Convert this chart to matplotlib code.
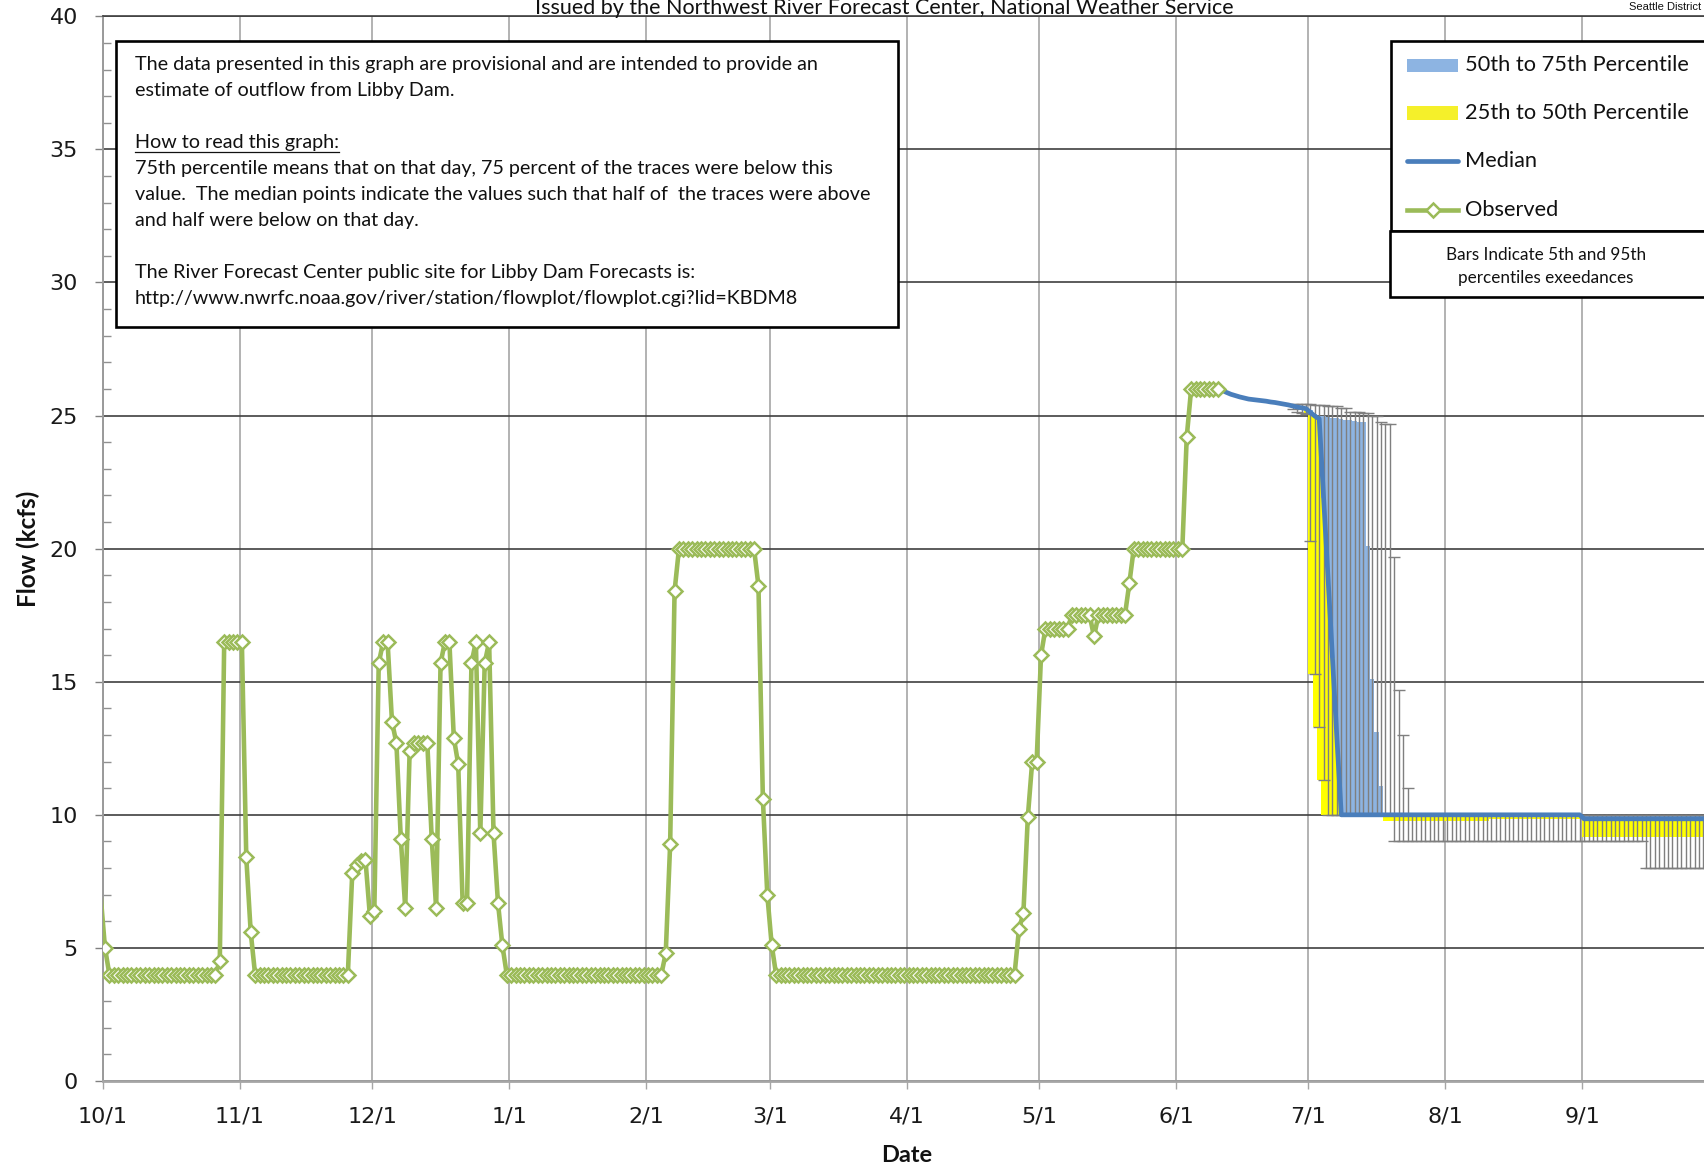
import numpy as np
import matplotlib
matplotlib.use("Agg")
import matplotlib.pyplot as plt
from matplotlib.patches import Rectangle
from matplotlib.lines import Line2D
from matplotlib.ticker import MultipleLocator

# ---------------- data ----------------
# x axis: day of water year (0 = 10/1)
month_days = [0, 31, 61, 92, 123, 151, 182, 212, 243, 273, 304, 335]
month_labels = ["10/1", "11/1", "12/1", "1/1", "2/1", "3/1", "4/1", "5/1", "6/1", "7/1", "8/1", "9/1"]
y_ticks = [0, 5, 10, 15, 20, 25, 30, 35, 40]

# Observed daily outflow (kcfs), day -1 (9/30) .. day 252 (6/10)
obs_start_day = -1
obs_flow = [
    7.0, 5.0, 4.0, 4.0, 4.0, 4.0, 4.0, 4.0, 4.0, 4.0,          # -1..8
    4.0, 4.0, 4.0, 4.0, 4.0, 4.0, 4.0, 4.0, 4.0, 4.0,          # 9..18
    4.0, 4.0, 4.0, 4.0, 4.0, 4.0, 4.0, 4.5, 16.5, 16.5,        # 19..28
    16.5, 16.5, 16.5, 8.4, 5.6, 4.0, 4.0, 4.0, 4.0, 4.0,       # 29..38
    4.0, 4.0, 4.0, 4.0, 4.0, 4.0, 4.0, 4.0, 4.0, 4.0,          # 39..48
    4.0, 4.0, 4.0, 4.0, 4.0, 4.0, 4.0, 7.8, 8.1, 8.25,         # 49..58
    8.3, 6.2, 6.4, 15.7, 16.5, 16.5, 13.5, 12.7, 9.1, 6.5,     # 59..68
    12.4, 12.7, 12.7, 12.7, 12.7, 9.1, 6.5, 15.7, 16.5, 16.5,  # 69..78
    12.9, 11.9, 6.7, 6.7, 15.7, 16.5, 9.3, 15.7, 16.5, 9.3,    # 79..88
    6.7, 5.1, 4.0, 4.0, 4.0, 4.0, 4.0, 4.0, 4.0, 4.0,          # 89..98
    4.0, 4.0, 4.0, 4.0, 4.0, 4.0, 4.0, 4.0, 4.0, 4.0,          # 99..108
    4.0, 4.0, 4.0, 4.0, 4.0, 4.0, 4.0, 4.0, 4.0, 4.0,          # 109..118
    4.0, 4.0, 4.0, 4.0, 4.0, 4.0, 4.0, 4.0, 4.8, 8.9,          # 119..128
    18.4, 20.0, 20.0, 20.0, 20.0, 20.0, 20.0, 20.0, 20.0, 20.0,  # 129..138
    20.0, 20.0, 20.0, 20.0, 20.0, 20.0, 20.0, 20.0, 20.0, 18.6,  # 139..148
    10.6, 7.0, 5.1, 4.0, 4.0, 4.0, 4.0, 4.0, 4.0, 4.0,         # 149..158
    4.0, 4.0, 4.0, 4.0, 4.0, 4.0, 4.0, 4.0, 4.0, 4.0,          # 159..168
    4.0, 4.0, 4.0, 4.0, 4.0, 4.0, 4.0, 4.0, 4.0, 4.0,          # 169..178
    4.0, 4.0, 4.0, 4.0, 4.0, 4.0, 4.0, 4.0, 4.0, 4.0,          # 179..188
    4.0, 4.0, 4.0, 4.0, 4.0, 4.0, 4.0, 4.0, 4.0, 4.0,          # 189..198
    4.0, 4.0, 4.0, 4.0, 4.0, 4.0, 4.0, 4.0, 5.7, 6.3,          # 199..208
    9.9, 12.0, 12.0, 16.0, 17.0, 17.0, 17.0, 17.0, 17.0, 17.0,  # 209..218
    17.5, 17.5, 17.5, 17.5, 17.5, 16.7, 17.5, 17.5, 17.5, 17.5,  # 219..228
    17.5, 17.5, 17.5, 18.7, 20.0, 20.0, 20.0, 20.0, 20.0, 20.0,  # 229..238
    20.0, 20.0, 20.0, 20.0, 20.0, 20.0, 24.2, 26.0, 26.0, 26.0,  # 239..248
    26.0, 26.0, 26.0, 26.0,                                     # 249..252
]

# Forecast median, day 252 (6/10) .. day 364 (9/30)
median_start_day = 252
median_flow = [
    26.0, 25.95, 25.87, 25.8, 25.75, 25.7, 25.66, 25.62, 25.6, 25.58,   # 252..261
    25.56, 25.54, 25.51, 25.49, 25.46, 25.43, 25.4, 25.36, 25.32, 25.29,  # 262..271
    25.26, 25.12, 24.98, 24.88, 21.9, 18.9, 15.9, 12.9, 10.0, 10.0,    # 272..281
    10.0, 10.0, 10.0, 10.0, 10.0, 10.0, 10.0, 10.0, 10.0, 10.0,        # 282..291
    10.0, 10.0, 10.0, 10.0, 10.0, 10.0, 10.0, 10.0, 10.0, 10.0,        # 292..301
    10.0, 10.0, 10.0, 10.0, 10.0, 10.0, 10.0, 10.0, 10.0, 10.0,        # 302..311
    10.0, 10.0, 10.0, 10.0, 10.0, 10.0, 10.0, 10.0, 10.0, 10.0,        # 312..321
    10.0, 10.0, 10.0, 10.0, 10.0, 10.0, 10.0, 10.0, 10.0, 10.0,        # 322..331
    10.0, 10.0, 10.0, 9.85, 9.85, 9.85, 9.85, 9.85, 9.85, 9.85,        # 332..341
    9.85, 9.85, 9.85, 9.85, 9.85, 9.85, 9.85, 9.85, 9.85, 9.85,        # 342..351
    9.85, 9.85, 9.85, 9.85, 9.85, 9.85, 9.85, 9.85, 9.85, 9.85,        # 352..361
    9.85, 9.85, 9.85,                                                  # 362..364
]

# Percentile bands, day 269 (6/27) .. day 364 (9/30)
band_start_day = 269
p95_flow = [
    25.45, 25.45, 25.44, 25.44, 25.43, 25.39, 25.38, 25.38, 25.37, 25.36,  # 269..278
    25.35, 25.3, 25.28, 25.14, 25.13, 25.12, 25.11, 25.1, 25.0, 24.98,     # 279..288
    24.75, 24.7, 24.69, 19.7, 14.7, 13.0, 11.0, 10.0, 10.0, 10.0,          # 289..298
    10.0, 10.0, 10.0, 10.0, 10.0, 10.0, 10.0, 10.0, 10.0, 10.0,            # 299..308
    10.0, 10.0, 10.0, 10.0, 10.0, 10.0, 10.0, 10.0, 10.0, 10.0,            # 309..318
    10.0, 10.0, 10.0, 10.0, 10.0, 10.0, 10.0, 10.0, 10.0, 10.0,            # 319..328
    10.0, 10.0, 10.0, 10.0, 10.0, 10.0, 10.0, 10.0, 10.0, 10.0,            # 329..338
    10.0, 10.0, 10.0, 10.0, 10.0, 10.0, 10.0, 10.0, 10.0, 10.0,            # 339..348
    10.0, 10.0, 10.0, 10.0, 10.0, 10.0, 10.0, 10.0, 10.0, 10.0,            # 349..358
    10.0, 10.0, 10.0, 10.0, 10.0, 10.0,                                    # 359..364
]
p75_flow = [
    25.38, 25.35, 25.32, 25.3, 25.2, 25.05, 25.0, 24.97, 24.95, 24.92,     # 269..278
    24.9, 24.87, 24.85, 24.82, 24.8, 24.77, 24.74, 20.1, 15.1, 13.1,       # 279..288
    11.1, 10.0, 10.0, 10.0, 10.0, 10.0, 10.0, 10.0, 10.0, 10.0,            # 289..298
    10.0, 10.0, 10.0, 10.0, 10.0, 10.0, 10.0, 10.0, 10.0, 10.0,            # 299..308
    10.0, 10.0, 10.0, 10.0, 10.0, 10.0, 10.0, 10.0, 10.0, 10.0,            # 309..318
    10.0, 10.0, 10.0, 10.0, 10.0, 10.0, 10.0, 10.0, 10.0, 10.0,            # 319..328
    10.0, 10.0, 10.0, 10.0, 10.0, 10.0, 10.0, 10.0, 10.0, 10.0,            # 329..338
    10.0, 10.0, 10.0, 10.0, 10.0, 10.0, 10.0, 10.0, 10.0, 10.0,            # 339..348
    10.0, 10.0, 10.0, 10.0, 10.0, 10.0, 10.0, 10.0, 10.0, 10.0,            # 349..358
    10.0, 10.0, 10.0, 10.0, 10.0, 10.0,                                    # 359..364
]
p25_flow = [
    25.3, 25.25, 25.2, 25.1, 15.3, 13.3, 11.3, 10.0, 10.0, 10.0,           # 269..278
    10.0, 10.0, 10.0, 10.0, 10.0, 10.0, 10.0, 10.0, 10.0, 10.0,            # 279..288
    10.0, 9.75, 9.75, 9.75, 9.75, 9.75, 9.75, 9.75, 9.75, 9.75,            # 289..298
    9.75, 9.75, 9.75, 9.75, 9.75, 9.75, 9.75, 9.75, 9.75, 9.75,            # 299..308
    9.75, 9.75, 9.75, 9.75, 9.75, 9.85, 9.85, 9.85, 9.85, 9.85,            # 309..318
    9.85, 9.85, 9.85, 9.85, 9.85, 9.85, 9.85, 9.85, 9.85, 9.85,            # 319..328
    9.85, 9.85, 9.85, 9.85, 9.85, 9.85, 9.15, 9.15, 9.15, 9.15,            # 329..338
    9.15, 9.15, 9.15, 9.15, 9.15, 9.15, 9.15, 9.15, 9.15, 9.15,            # 339..348
    9.15, 9.15, 9.15, 9.15, 9.15, 9.15, 9.15, 9.15, 9.15, 9.15,            # 349..358
    9.15, 9.15, 9.15, 9.15, 9.15, 9.15,                                    # 359..364
]
p05_flow = [
    25.25, 25.15, 25.1, 25.05, 20.3, 15.3, 13.3, 11.3, 10.0, 10.0,         # 269..278
    10.0, 10.0, 10.0, 10.0, 10.0, 10.0, 10.0, 10.0, 10.0, 10.0,            # 279..288
    10.0, 10.0, 10.0, 9.0, 9.0, 9.0, 9.0, 9.0, 9.0, 9.0,                   # 289..298
    9.0, 9.0, 9.0, 9.0, 9.0, 9.0, 9.0, 9.0, 9.0, 9.0,                      # 299..308
    9.0, 9.0, 9.0, 9.0, 9.0, 9.0, 9.0, 9.0, 9.0, 9.0,                      # 309..318
    9.0, 9.0, 9.0, 9.0, 9.0, 9.0, 9.0, 9.0, 9.0, 9.0,                      # 319..328
    9.0, 9.0, 9.0, 9.0, 9.0, 9.0, 9.0, 9.0, 9.0, 9.0,                      # 329..338
    9.0, 9.0, 9.0, 9.0, 9.0, 9.0, 9.0, 9.0, 9.0, 9.0,                      # 339..348
    8.0, 8.0, 8.0, 8.0, 8.0, 8.0, 8.0, 8.0, 8.0, 8.0,                      # 349..358
    8.0, 8.0, 8.0, 8.0, 8.0, 8.0,                                          # 359..364
]

note_lines = [
    "The data presented in this graph are provisional and are intended to provide an",
    "estimate of outflow from Libby Dam.",
    "How to read this graph:",
    "75th percentile means that on that day, 75 percent of the traces were below this",
    "value.  The median points indicate the values such that half of  the traces were above",
    "and half were below on that day.",
    "The River Forecast Center public site for Libby Dam Forecasts is:",
    "http://www.nwrfc.noaa.gov/river/station/flowplot/flowplot.cgi?lid=KBDM8",
]
legend_labels = ["50th to 75th Percentile", "25th to 50th Percentile", "Median", "Observed"]

# ---------------- style ----------------
GREEN = "#9BBB59"
MEDIAN_BLUE = "#4A7EBB"
BAND_BLUE = "#8DB4E2"
BAND_YELLOW = "#FFFF00"
WHISKER = "#7F7F7F"
TXT = ["Lato", "DejaVu Sans"]
DAY_OFFSET = 0.45  # daily values sit a little right of the date gridline
OBS_LW, OBS_MS, OBS_MEW = 3.3, 7.4, 1.8
MED_LW = 3.4

W, H = 1704, 1169
fig = plt.figure(figsize=(W / 100, H / 100), dpi=100)
fig.patch.set_facecolor("white")


def fx(x):
    return x / W


def fy(y):
    return 1 - y / H


AX_L, AX_T, AX_B = 103, 16.3, 1081
ax = fig.add_axes([fx(AX_L), fy(AX_B), 1 - fx(AX_L), (AX_B - AX_T) / H])

obs_x = np.arange(len(obs_flow)) + obs_start_day + DAY_OFFSET
med_x = np.arange(len(median_flow)) + median_start_day + DAY_OFFSET
band_x = np.arange(len(p95_flow)) + band_start_day + DAY_OFFSET
med = np.array(median_flow)
med_band = med[band_start_day - median_start_day:]
p95 = np.array(p95_flow)
p75 = np.array(p75_flow)
p25 = np.array(p25_flow)
p05 = np.array(p05_flow)

ax.bar(band_x, p75 - med_band, bottom=med_band, width=1.0, color=BAND_BLUE,
       linewidth=0, zorder=2)
ax.bar(band_x, med_band - p25, bottom=p25, width=1.0, color=BAND_YELLOW,
       linewidth=0, zorder=2)
ax.errorbar(band_x, p05, yerr=[np.zeros_like(p05), p95 - p05], fmt="none",
            ecolor=WHISKER, elinewidth=1.0, capsize=4.3, capthick=1.0, zorder=3)
ax.plot(med_x, med, color=MEDIAN_BLUE, lw=MED_LW, zorder=4, solid_joinstyle="round")
# the 9/30 value only feeds the line entering at the left edge; no marker for it
ax.plot(obs_x, obs_flow, color=GREEN, lw=OBS_LW, marker="D", ms=OBS_MS, mfc="white",
        mec=GREEN, mew=OBS_MEW, markevery=slice(1, None), zorder=5,
        solid_joinstyle="round")

ax.set_xlim(0, 362.6)
ax.set_ylim(0, 40)
ax.set_xticks(month_days)
ax.set_xticklabels(month_labels)
ax.set_yticks(y_ticks)
ax.yaxis.set_minor_locator(MultipleLocator(1))
ax.set_axisbelow(True)
ax.xaxis.grid(True, color="#A5A5A5", lw=1.2)
ax.yaxis.grid(True, color="#404040", lw=1.2)
ax.spines["right"].set_visible(False)
ax.spines["top"].set_color("#404040")
ax.spines["top"].set_linewidth(1.2)
ax.spines["left"].set_color("#9A9A9A")
ax.spines["left"].set_linewidth(1.4)
ax.spines["bottom"].set_color("#A5A5A5")
ax.spines["bottom"].set_linewidth(2.0)
ax.tick_params(axis="x", which="major", direction="out", length=6, width=1,
               color="#A5A5A5", pad=12, labelsize=16, labelcolor="#1A1A1A")
ax.tick_params(axis="y", which="major", direction="out", length=6, width=1,
               color="#808080", pad=12, labelsize=16, labelcolor="#1A1A1A")
ax.tick_params(axis="y", which="minor", direction="in", length=6, width=1,
               color="#909090")
for lab in ax.get_xticklabels() + ax.get_yticklabels():
    lab.set_family("DejaVu Sans")

renderer = fig.canvas.get_renderer()


def fit(t, target, vertical=False):
    bb = t.get_window_extent(renderer)
    cur = bb.height if vertical else bb.width
    t.set_fontsize(t.get_fontsize() * target / cur)
    return t


# axis titles
fit(fig.text(fx(907), fy(1156), "Date", ha="center", va="center",
             family=TXT, weight="bold", fontsize=15, color="#111111"), 51)
fit(fig.text(fx(28), fy(549), "Flow (kcfs)", ha="center", va="center",
             rotation=90, family=TXT, weight="bold", fontsize=15,
             color="#111111"), 117, vertical=True)

# header line (kept fully inside the canvas)
fit(fig.text(fx(884), fy(13.5), "Issued by the Northwest River Forecast Center, National Weather Service",
             ha="center", va="baseline", family=TXT, fontsize=15, color="#111111"), 700)
fig.text(fx(1701), fy(7), "Seattle District", ha="right", va="center",
         family=["Liberation Sans", "DejaVu Sans"], fontsize=8, color="#111111")

# ---- note box ----
fig.add_artist(Rectangle((fx(116), fy(327)), fx(898) - fx(116), fy(41) - fy(327),
                         transform=fig.transFigure, facecolor="white",
                         edgecolor="black", lw=1.9, zorder=6))
note_y = [64.1, 90.2, 142.4, 168.4, 194.5, 220.6, 272.8, 298.9]
note_texts = []
for line, yy in zip(note_lines, note_y):
    note_texts.append(fig.text(fx(135), fy(yy), line, ha="left", va="center",
                               family=TXT, fontsize=12.5, color="#111111", zorder=7))
fit(note_texts[4], 740)
for t in note_texts:
    t.set_fontsize(note_texts[4].get_fontsize())
bb = note_texts[2].get_window_extent(renderer)
fig.add_artist(Line2D([bb.x0 / W, bb.x1 / W], [fy(151.5), fy(151.5)],
                      transform=fig.transFigure, color="#111111", lw=0.9, zorder=7))

# ---- legend ----
fig.add_artist(Rectangle((fx(1391), fy(231)), fx(1730) - fx(1391), fy(41) - fy(231),
                         transform=fig.transFigure, facecolor="white",
                         edgecolor="black", lw=1.9, zorder=6))
fig.add_artist(Rectangle((fx(1390), fy(297)), fx(1730) - fx(1390), fy(231) - fy(297),
                         transform=fig.transFigure, facecolor="white",
                         edgecolor="black", lw=1.9, zorder=6))
leg_y = [65.2, 113.0, 160.8, 209.7]
fig.add_artist(Rectangle((fx(1407), fy(72)), fx(1458) - fx(1407), fy(59) - fy(72),
                         transform=fig.transFigure, facecolor=BAND_BLUE, lw=0, zorder=7))
fig.add_artist(Rectangle((fx(1407), fy(120)), fx(1458) - fx(1407), fy(106) - fy(120),
                         transform=fig.transFigure, facecolor="#F5F02A", lw=0, zorder=7))
fig.add_artist(Line2D([fx(1407), fx(1458)], [fy(leg_y[2]), fy(leg_y[2])],
                      transform=fig.transFigure, color=MEDIAN_BLUE, lw=MED_LW,
                      solid_capstyle="round", zorder=7))
fig.add_artist(Line2D([fx(1407), fx(1432.5), fx(1458)], [fy(leg_y[3])] * 3,
                      transform=fig.transFigure, color=GREEN, lw=OBS_LW, marker="D",
                      ms=OBS_MS, mfc="white", mec=GREEN, mew=OBS_MEW, markevery=[1],
                      zorder=7))
leg_texts = []
for lab, yy in zip(legend_labels, leg_y):
    leg_texts.append(fig.text(fx(1465), fy(yy), lab, ha="left", va="center",
                              family=TXT, fontsize=15, color="#111111", zorder=8))
fit(leg_texts[0], 225)
for t in leg_texts:
    t.set_fontsize(leg_texts[0].get_fontsize())

b1 = fig.text(fx(1546), fy(255), "Bars Indicate 5th and 95th", ha="center", va="center",
              family=TXT, fontsize=11, color="#111111", zorder=8)
fit(b1, 200)
fig.text(fx(1546), fy(278), "percentiles exeedances", ha="center", va="center",
         family=TXT, fontsize=b1.get_fontsize(), color="#111111", zorder=8)

fig.savefig("out.png", dpi=100)
